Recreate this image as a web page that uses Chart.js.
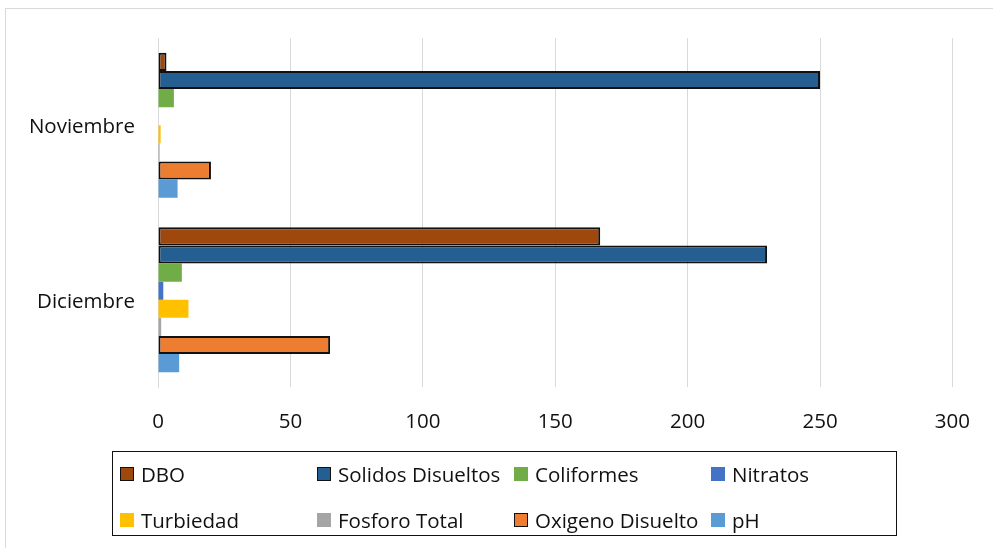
<!DOCTYPE html>
<html>
<head>
<meta charset="utf-8">
<script src="https://cdn.jsdelivr.net/npm/chart.js@4.4.1/dist/chart.umd.min.js"></script>
<style>
  html, body { margin: 0; padding: 0; background: #fff; overflow: hidden; }
  #wrap { position: relative; width: 993px; height: 548px; }
  #frame { position: absolute; left: 5px; top: 8px; width: 1100px; height: 700px;
           border-left: 1px solid #d9d9d9; border-top: 1px solid #d9d9d9; }
  #chart { position: absolute; left: 0; top: 0; }
  #legend { position: absolute; left: 112px; top: 451px; width: 785px; height: 85px;
            border: 1.5px solid #111; box-sizing: border-box;
            font-family: "Open Sans", Lato, sans-serif; font-size: 20.5px; color: #111; }
  .item { position: absolute; display: flex; align-items: center; white-space: nowrap; }
  .box { width: 14px; height: 14px; box-sizing: border-box; margin-right: 7px; }
</style>
</head>
<body>
<div id="wrap">
  <div id="frame"></div>
  <canvas id="chart" width="993" height="548"></canvas>
  <div id="legend"></div>
</div>
<script>
// Months on the category axis
const months = ["Noviembre", "Diciembre"];

// Water-quality parameters, one series each
const dbo        = [3.2, 167];
const solidos    = [250, 230];
const coliformes = [6, 9];
const nitratos   = [0, 2];
const turbiedad  = [1, 11.5];
const fosforo    = [0.6, 1.2];
const oxigeno    = [20, 65];
const ph         = [7.4, 8];

// Value axis ticks
const xTicks = [0, 50, 100, 150, 200, 250, 300];

const series = [
  { label: "DBO",               data: dbo,        color: "#9E480E", outlined: true },
  { label: "Solidos Disueltos", data: solidos,    color: "#255E91", outlined: true },
  { label: "Coliformes",        data: coliformes, color: "#70AD47", outlined: false },
  { label: "Nitratos",          data: nitratos,   color: "#4472C4", outlined: false },
  { label: "Turbiedad",         data: turbiedad,  color: "#FFC000", outlined: false },
  { label: "Fosforo Total",     data: fosforo,    color: "#A5A5A5", outlined: false },
  { label: "Oxigeno Disuelto",  data: oxigeno,    color: "#ED7D31", outlined: true },
  { label: "pH",                data: ph,         color: "#5B9BD5", outlined: false }
];

const FONT = "'Open Sans', Lato, sans-serif";

new Chart(document.getElementById("chart"), {
  type: "bar",
  data: {
    labels: months,
    datasets: series.map(s => ({
      label: s.label,
      data: s.data,
      backgroundColor: s.color,
      borderColor: "#111",
      borderWidth: s.outlined ? 2 : 0,
      borderSkipped: false,
      categoryPercentage: 0.83,
      barPercentage: 1.0
    }))
  },
  options: {
    indexAxis: "y",
    responsive: false,
    animation: false,
    layout: { padding: { left: 0, top: 38, right: 40, bottom: 108 } },
    plugins: { legend: { display: false }, tooltip: { enabled: false } },
    scales: {
      x: {
        min: 0, max: 300,
        afterBuildTicks: sc => { sc.ticks = xTicks.map(v => ({ value: v })); },
        afterFit: sc => { sc.height = 53; },
        grid: { color: "#d9d9d9", lineWidth: 1, drawTicks: false },
        border: { display: false },
        ticks: { padding: 23, color: "#111", font: { family: FONT, size: 20.5 } }
      },
      y: {
        afterFit: sc => { sc.width = 158; },
        grid: { display: false, drawTicks: false },
        border: { display: true, color: "#d9d9d9", width: 1 },
        ticks: { padding: 23, labelOffset: 2, color: "#111", font: { family: FONT, size: 20.5 } }
      }
    }
  }
});

// Legend laid out in two rows of four entries
const legend = document.getElementById("legend");
series.forEach((s, i) => {
  const col = i % 4, row = Math.floor(i / 4);
  const item = document.createElement("div");
  item.className = "item";
  item.style.left = (7 + col * 197) + "px";
  item.style.top = (8 + row * 46) + "px";
  item.style.height = "28px";
  const box = document.createElement("span");
  box.className = "box";
  box.style.background = s.color;
  if (s.outlined) box.style.border = "1.5px solid #111";
  const txt = document.createElement("span");
  txt.textContent = s.label;
  item.appendChild(box);
  item.appendChild(txt);
  legend.appendChild(item);
});
</script>
</body>
</html>
